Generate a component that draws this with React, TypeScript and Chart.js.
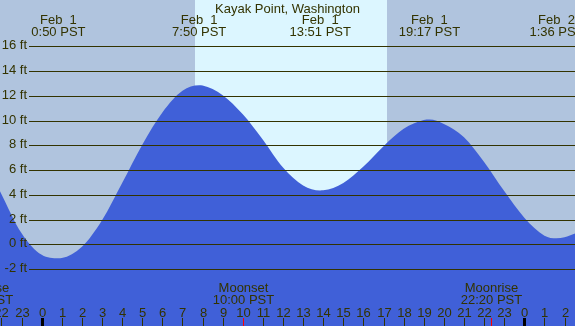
import React, { useEffect, useRef } from "react";
import { Chart, registerables } from "chart.js";

Chart.register(...registerables);

// Tide curve (hours from Feb 1 0:00 PST, feet)
const tideHours = [-2.1, -1, 0, 0.83, 1, 2, 3, 4, 5, 6, 7, 7.83, 8, 9, 10, 11, 12, 13, 13.85, 14, 15, 16, 17, 18, 19, 19.28, 20, 21, 22, 23, 24, 25, 25.6, 26, 26.6];
const tideFeet = [4.38, 0.9, -0.85, -1.13, -1.11, -0.19, 1.95, 4.95, 8.05, 10.65, 12.4, 12.85, 12.83, 12.05, 10.5, 8.45, 6.2, 4.75, 4.35, 4.36, 4.96, 6.28, 7.93, 9.33, 10.04, 10.08, 9.72, 8.65, 6.65, 4.3, 2.15, 0.7, 0.48, 0.57, 0.92];

const gridFeet = [-2, 0, 2, 4, 6, 8, 10, 12, 14, 16];
const hourTicks = [-2, -1, 0, 1, 2, 3, 4, 5, 6, 7, 8, 9, 10, 11, 12, 13, 14, 15, 16, 17, 18, 19, 20, 21, 22, 23, 24, 25, 26];
const hourLabels = ["22", "23", "0", "1", "2", "3", "4", "5", "6", "7", "8", "9", "10", "11", "12", "13", "14", "15", "16", "17", "18", "19", "20", "21", "22", "23", "0", "1", "2"];
const midnightHours = [0, 24];

const extremeHours = [0.83, 7.83, 13.85, 19.28, 25.6];
const extremeDates = ["Feb  1", "Feb  1", "Feb  1", "Feb  1", "Feb  2"];
const extremeTimes = ["0:50 PST", "7:50 PST", "13:51 PST", "19:17 PST", "1:36 PST"];

const moonHours = [-2.95, 10.0, 22.33];
const moonNames = ["Moonrise", "Moonset", "Moonrise"];
const moonTimes = ["21:03 PST", "10:00 PST", "22:20 PST"];

const sunriseHour = 7.62;
const sunsetHour = 17.17;

const TITLE = "Kayak Point, Washington";

const NIGHT = "#b0c4de";
const DAY = "#dcf6ff";
const WATER = "#4060d8";
const INK = "#333300";
const FONT = '13px "Liberation Sans", Arial, sans-serif';

export default function App() {
  const ref = useRef<HTMLCanvasElement | null>(null);

  useEffect(() => {
    document.body.style.margin = "0";
    const canvas = ref.current;
    if (!canvas) return;

    const decor = {
      id: "tideDecor",
      beforeDatasetsDraw(chart: any) {
        const { ctx, width, height } = chart;
        const xs = chart.scales.x;
        ctx.save();
        ctx.fillStyle = NIGHT;
        ctx.fillRect(0, 0, width, height);
        const a = Math.round(xs.getPixelForValue(sunriseHour));
        const b = Math.round(xs.getPixelForValue(sunsetHour));
        ctx.fillStyle = DAY;
        ctx.fillRect(a, 0, b - a, height);
        ctx.restore();
      },
      afterDatasetsDraw(chart: any) {
        const { ctx, width } = chart;
        const xs = chart.scales.x;
        const ys = chart.scales.y;
        ctx.save();
        ctx.font = FONT;
        ctx.fillStyle = INK;
        ctx.strokeStyle = INK;
        ctx.lineWidth = 1;

        // grid lines + y labels
        gridFeet.forEach((f) => {
          const y = Math.round(ys.getPixelForValue(f)) + 0.5;
          ctx.beginPath();
          ctx.moveTo(29, y);
          ctx.lineTo(width, y);
          ctx.stroke();
          ctx.textAlign = "right";
          ctx.textBaseline = "middle";
          ctx.fillText(`${f} ft`, 27, y - 1);
        });

        // title
        ctx.textAlign = "center";
        ctx.textBaseline = "alphabetic";
        ctx.fillText(TITLE, width / 2, 12.5);

        // extremes labels
        extremeHours.forEach((h, i) => {
          const x = xs.getPixelForValue(h);
          ctx.fillText(extremeDates[i], x, 24.3);
          ctx.fillText(extremeTimes[i], x, 36);
        });

        // hour ticks and labels
        hourTicks.forEach((h, i) => {
          const x = Math.round(xs.getPixelForValue(h));
          ctx.fillText(hourLabels[i], x + 0.5, 316.5);
          if (midnightHours.includes(h)) {
            ctx.fillStyle = "#000000";
            ctx.fillRect(x - 1, 318, 3, 8);
            ctx.fillStyle = INK;
          } else {
            ctx.fillRect(x, 318, 1, 8);
          }
        });

        // moon events
        moonHours.forEach((h, i) => {
          const x = Math.round(xs.getPixelForValue(h));
          ctx.fillStyle = INK;
          ctx.fillText(moonNames[i], x + 0.5, 291.6);
          ctx.fillText(moonTimes[i], x + 0.5, 303.5);
          ctx.fillStyle = "#ff0000";
          ctx.fillRect(x, 318, 1, 8);
        });

        ctx.restore();
      },
    };

    const chart = new Chart(canvas, {
      type: "line",
      data: {
        datasets: [
          {
            data: tideHours.map((h, i) => ({ x: h, y: tideFeet[i] })),
            fill: "start",
            backgroundColor: WATER,
            borderColor: "rgba(0,0,0,0)",
            borderWidth: 0,
            pointRadius: 0,
            cubicInterpolationMode: "monotone",
          },
        ],
      },
      options: {
        animation: false,
        responsive: false,
        devicePixelRatio: 1,
        events: [],
        layout: { padding: 0 },
        scales: {
          x: { type: "linear", min: -2.074, max: 26.52, display: false },
          y: { type: "linear", min: -6.6, max: 19.74, display: false },
        },
        plugins: {
          legend: { display: false },
          tooltip: { enabled: false },
        },
      },
      plugins: [decor],
    });

    return () => chart.destroy();
  }, []);

  return (
    <div style={{ width: 575, height: 326 }}>
      <canvas ref={ref} width={575} height={326} style={{ display: "block" }} />
    </div>
  );
}
